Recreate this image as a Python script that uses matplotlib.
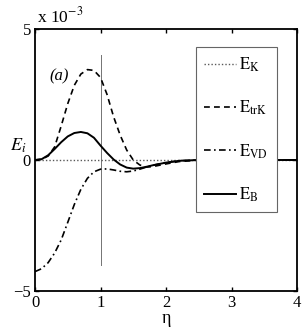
import matplotlib
matplotlib.use("Agg")
import matplotlib.pyplot as plt

plt.rcParams['font.family'] = ['Liberation Serif', 'DejaVu Serif']
plt.rcParams['mathtext.fontset'] = 'stix'

# values in units of 1e-3
eta = [0, 0.1, 0.2, 0.3, 0.4, 0.5, 0.6, 0.7, 0.8, 0.9, 1.0, 1.1, 1.2, 1.3,
       1.4, 1.5, 1.6, 1.7, 1.8, 2.0, 2.2, 2.5, 3.0, 3.5, 4.0]
E_K = [0.0] * len(eta)
E_trK = [0, 0.03, 0.15, 0.5, 1.3, 2.15, 2.85, 3.28, 3.45, 3.42, 3.15, 2.5,
         1.65, 0.95, 0.38, 0.0, -0.19, -0.27, -0.25, -0.15, -0.06, 0, 0, 0, 0]
E_VD = [-4.26, -4.15, -3.92, -3.55, -3.05, -2.38, -1.7, -1.12, -0.7, -0.45,
        -0.35, -0.34, -0.38, -0.43, -0.45, -0.42, -0.35, -0.27, -0.2, -0.1,
        -0.03, 0, 0, 0, 0]
E_B = [0, 0.03, 0.18, 0.42, 0.68, 0.90, 1.03, 1.07, 1.02, 0.85, 0.55, 0.27,
       0.02, -0.17, -0.29, -0.33, -0.31, -0.26, -0.2, -0.1, -0.03, 0, 0, 0, 0]
labels = [r'$\mathrm{E}_{\mathrm{K}}$', r'$\mathrm{E}_{\mathrm{trK}}$',
          r'$\mathrm{E}_{\mathrm{VD}}$', r'$\mathrm{E}_{\mathrm{B}}$']
xticks = [0, 1, 2, 3, 4]
yticks = [-5, 0, 5]
vline_x = 1
vline_lo, vline_hi = -4, 4

fig = plt.figure(figsize=(3.05, 3.32), dpi=100)
ax = fig.add_axes([35/305, (332-291)/332, 262/305, 262/332])

ax.plot([vline_x, vline_x], [vline_lo, vline_hi], color='0.45', lw=0.7)
ax.plot(eta, E_K, color='0.35', lw=1.0, linestyle=(0, (1, 1.5)), label=labels[0])
ax.plot(eta, E_trK, color='black', lw=1.2, linestyle=(0, (3.5, 2.5)), label=labels[1])
ax.plot(eta, E_VD, color='black', lw=1.2, linestyle=(0, (4, 2, 1, 2)), label=labels[2])
ax.plot(eta, E_B, color='black', lw=1.4, linestyle='-', label=labels[3])

ax.set_xlim(0, 4)
ax.set_ylim(-5, 5)
ax.set_xticks(xticks)
ax.set_yticks(yticks)
ax.set_yticklabels(['\u22125', '0', '5'])
ax.tick_params(direction='in', top=True, right=True, length=3, width=1,
               labelsize=12, pad=3)
for s in ax.spines.values():
    s.set_linewidth(1.3)

leg = ax.legend(loc='upper left', bbox_to_anchor=(0.615, 0.931), fontsize=12,
                labelspacing=1.5, handlelength=1.9, handletextpad=0.2,
                borderpad=0.5, borderaxespad=0, fancybox=False, framealpha=1)
leg.get_frame().set_edgecolor('0.4')
leg.get_frame().set_linewidth(0.8)

ax.text(0.055, 0.82, '(a)', transform=ax.transAxes, fontsize=12,
        style='italic', va='center', ha='left')
fig.text(37/305, (332-22)/332, r'x 10$^{-3}$', fontsize=12.5, va='baseline', ha='left')
fig.text(10/305, (332-146)/332, r'$E_i$', fontsize=13, va='center', ha='left')
ax.set_xlabel('\u03b7', fontsize=13, labelpad=-1)

fig.savefig('out.png', dpi=100)
